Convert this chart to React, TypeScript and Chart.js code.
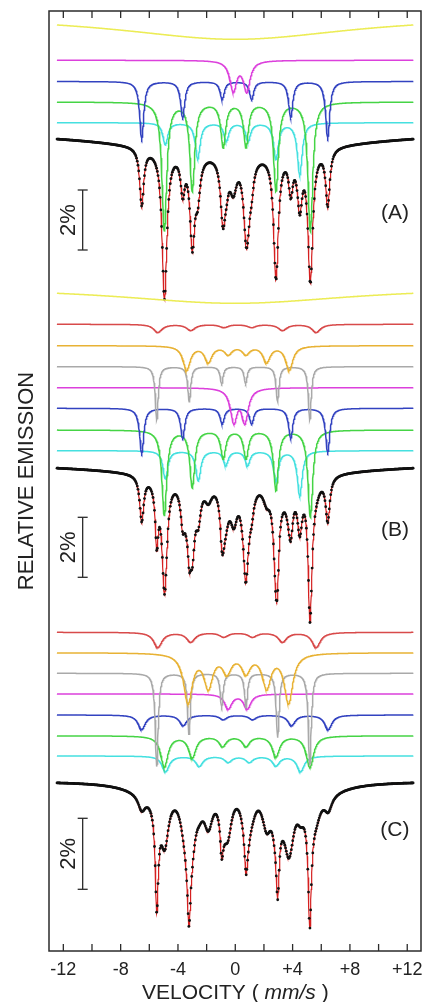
import { useEffect, useRef } from 'react';
import { Chart, registerables } from 'chart.js';

Chart.register(...registerables);

// ---------------- axes & texts ----------------
const X_MIN = -13.0;
const X_MAX = 12.96;
const Y_MIN = 0; // vertical display units (top of frame)
const Y_MAX = 940; // bottom of frame
const X_TICKS = [-12, -10, -8, -6, -4, -2, 0, 2, 4, 6, 8, 10, 12];
const X_TICK_LABELS = ['-12', '', '-8', '', '-4', '', '0', '', '+4', '', '+8', '', '+12'];
const X_TITLE_PARTS = ['VELOCITY ( ', 'mm/s', ' )'];
const Y_TITLE = 'RELATIVE EMISSION';
const PANEL_LABELS = ['(A)', '(B)', '(C)'];
const SCALE_LABEL = '2%';

// measured velocity range (mm/s) and channel spacing
const V_FIRST = -12.44;
const V_LAST = 12.42;
const CHANNEL_STEP = 0.05;
const CURVE_STEP = 0.02;

// ---------------- Panel A (line positions mm/s, depths, HWHM, baselines) ----------------
const A_YELLOW_V = [0];
const A_YELLOW_D = [23.6];
const A_MAGENTA_V = [-0.14, 0.8];
const A_MAGENTA_D = [30, 30];
const A_BLUE_V = [-6.53, -3.67, -0.91, 1.14, 3.87, 6.45];
const A_BLUE_D = [57, 36, 18, 18, 36, 56];
const A_GREEN_V = [-4.95, -3.0, -0.84, 0.75, 2.84, 5.24];
const A_GREEN_D = [128, 88, 44, 44, 88, 129];
const A_CYAN_V = [-4.88, -2.62, -0.62, 0.9, 2.84, 4.5];
const A_CYAN_D = [22, 36, 18, 18, 36, 52];
const A_HWHM = [10, 0.28, 0.17, 0.2, 0.2];
const A_BASELINES = [4.7, 49.3, 70.5, 91, 111.7];
const A_SPECTRUM_BASELINE = 118.5;

// ---------------- Panel B ----------------
const B_YELLOW_V = [0];
const B_YELLOW_D = [16.5];
const B_RED_V = [-5.4, -3.1, -0.8, 1.15, 3.3, 5.65];
const B_RED_D = [8, 6, 3, 3, 6, 8];
const B_ORANGE_V = [-3.39, -1.88, -0.49, 0.75, 2.19, 3.77];
const B_ORANGE_D = [24, 16, 8, 8, 16, 24];
const B_GRAY_V = [-5.48, -3.21, -0.95, 0.72, 2.95, 5.2];
const B_GRAY_D = [53, 35, 17, 17, 35, 53];
const B_MAGENTA_V = [-0.1, 0.67];
const B_MAGENTA_D = [32.8, 32.8];
const B_BLUE_V = [-6.53, -3.67, -0.91, 1.14, 3.87, 6.45];
const B_BLUE_D = [45, 30, 15.7, 15.7, 30, 44];
const B_GREEN_V = [-4.95, -3.0, -0.84, 0.75, 2.84, 5.24];
const B_GREEN_D = [85, 57, 28, 28, 60, 87];
const B_CYAN_V = [-4.88, -2.58, -0.66, 0.86, 2.84, 4.5];
const B_CYAN_D = [28, 30, 14.3, 14.3, 30, 45];
const B_HWHM = [10, 0.35, 0.3, 0.12, 0.28, 0.17, 0.2, 0.2];
const B_BASELINES = [275.8, 313.3, 334.7, 355.7, 376.7, 397.3, 419, 439.7];
const B_SPECTRUM_BASELINE = 450.3;

// ---------------- Panel C ----------------
const C_RED_V = [-5.4, -3.1, -0.8, 1.2, 3.3, 5.65];
const C_RED_D = [15, 9.5, 4.5, 4.5, 9.5, 15];
const C_ORANGE_V = [-3.3, -1.88, -0.58, 0.75, 2.19, 3.72];
const C_ORANGE_D = [49, 33, 18, 18, 33, 49];
const C_GRAY_V = [-5.48, -3.23, -0.95, 0.75, 2.96, 5.2];
const C_GRAY_D = [93, 61, 33, 34, 64, 92];
const C_MAGENTA_V = [-0.49, 0.84];
const C_MAGENTA_D = [14.6, 14.6];
const C_BLUE_V = [-6.53, -3.63, -0.84, 1.21, 3.93, 6.49];
const C_BLUE_D = [14.5, 10.5, 4.5, 4.5, 10.5, 14.5];
const C_GREEN_V = [-4.95, -3.0, -0.88, 0.75, 2.84, 5.21];
const C_GREEN_D = [31, 21.5, 10, 10, 20.5, 31.5];
const C_CYAN_V = [-4.86, -2.51, -0.49, 0.98, 2.84, 4.56];
const C_CYAN_D = [15.5, 10, 6, 6, 9.5, 15.5];
const C_WING_V = [-6, 6]; // broad unresolved wings, contained in the fit only
const C_WING_D = [10, 10];
const C_HWHM = [0.35, 0.36, 0.12, 0.3, 0.3, 0.3, 0.3, 2];
const C_BASELINES = [621.3, 641.7, 662.3, 683, 704, 724.8, 745, 0];
const C_SPECTRUM_BASELINE = 770.4;

// ---------------- annotation positions (data units) ----------------
const SCALE_BAR_V = -10.65;
const SCALE_BAR_TOP = [179, 506.3, 807.3];
const SCALE_BAR_BOTTOM = [239, 566.3, 878.3];
const SCALE_LABEL_V = -11.19;
const PANEL_LABEL_V = 11.14;
const PANEL_LABEL_Y = [207.5, 525, 825];

const COLORS: Record<string, string> = {
  yellow: '#ecec55',
  magenta: '#dc40dc',
  blue: '#3242c0',
  green: '#45d445',
  cyan: '#45e0e0',
  red: '#d84a4a',
  orange: '#e8b234',
  gray: '#a9a9a9',
  fit: '#d52020',
  data: '#111111',
};

type Comp = { color: string; baseline: number; lines: number[]; depths: number[]; hwhm: number; drawn: boolean };
const comp = (color: string, baseline: number, lines: number[], depths: number[], hwhm: number, drawn = true): Comp => ({
  color, baseline, lines, depths, hwhm, drawn,
});

const PANELS: { comps: Comp[]; spectrumBaseline: number }[] = [
  {
    comps: [
      comp('yellow', A_BASELINES[0], A_YELLOW_V, A_YELLOW_D, A_HWHM[0]),
      comp('magenta', A_BASELINES[1], A_MAGENTA_V, A_MAGENTA_D, A_HWHM[1]),
      comp('blue', A_BASELINES[2], A_BLUE_V, A_BLUE_D, A_HWHM[2]),
      comp('green', A_BASELINES[3], A_GREEN_V, A_GREEN_D, A_HWHM[3]),
      comp('cyan', A_BASELINES[4], A_CYAN_V, A_CYAN_D, A_HWHM[4]),
    ],
    spectrumBaseline: A_SPECTRUM_BASELINE,
  },
  {
    comps: [
      comp('yellow', B_BASELINES[0], B_YELLOW_V, B_YELLOW_D, B_HWHM[0]),
      comp('red', B_BASELINES[1], B_RED_V, B_RED_D, B_HWHM[1]),
      comp('orange', B_BASELINES[2], B_ORANGE_V, B_ORANGE_D, B_HWHM[2]),
      comp('gray', B_BASELINES[3], B_GRAY_V, B_GRAY_D, B_HWHM[3]),
      comp('magenta', B_BASELINES[4], B_MAGENTA_V, B_MAGENTA_D, B_HWHM[4]),
      comp('blue', B_BASELINES[5], B_BLUE_V, B_BLUE_D, B_HWHM[5]),
      comp('green', B_BASELINES[6], B_GREEN_V, B_GREEN_D, B_HWHM[6]),
      comp('cyan', B_BASELINES[7], B_CYAN_V, B_CYAN_D, B_HWHM[7]),
    ],
    spectrumBaseline: B_SPECTRUM_BASELINE,
  },
  {
    comps: [
      comp('red', C_BASELINES[0], C_RED_V, C_RED_D, C_HWHM[0]),
      comp('orange', C_BASELINES[1], C_ORANGE_V, C_ORANGE_D, C_HWHM[1]),
      comp('gray', C_BASELINES[2], C_GRAY_V, C_GRAY_D, C_HWHM[2]),
      comp('magenta', C_BASELINES[3], C_MAGENTA_V, C_MAGENTA_D, C_HWHM[3]),
      comp('blue', C_BASELINES[4], C_BLUE_V, C_BLUE_D, C_HWHM[4]),
      comp('green', C_BASELINES[5], C_GREEN_V, C_GREEN_D, C_HWHM[5]),
      comp('cyan', C_BASELINES[6], C_CYAN_V, C_CYAN_D, C_HWHM[6]),
      comp('red', C_BASELINES[7], C_WING_V, C_WING_D, C_HWHM[7], false),
    ],
    spectrumBaseline: C_SPECTRUM_BASELINE,
  },
];

const dip = (v: number, c: Comp) => {
  let s = 0;
  for (let i = 0; i < c.lines.length; i++) {
    const t = (v - c.lines[i]) / c.hwhm;
    s += c.depths[i] / (1 + t * t);
  }
  return s;
};

const grid = (step: number) => {
  const out: number[] = [];
  const n = Math.round((V_LAST - V_FIRST) / step);
  for (let i = 0; i <= n; i++) out.push(V_FIRST + i * step);
  return out;
};

const FONT = '"Liberation Sans", Arial, sans-serif';

const decorPlugin = {
  id: 'decor',
  afterDraw(chart: any) {
    const { ctx, chartArea: a, scales } = chart;
    const xs = scales.x;
    const ys = scales.y;
    ctx.save();
    ctx.strokeStyle = '#2b2b2b';
    ctx.fillStyle = '#222';
    ctx.lineWidth = 1.5;
    ctx.strokeRect(a.left, a.top, a.right - a.left, a.bottom - a.top);
    const seg = (x1: number, y1: number, x2: number, y2: number) => {
      ctx.beginPath();
      ctx.moveTo(x1, y1);
      ctx.lineTo(x2, y2);
      ctx.stroke();
    };
    ctx.lineWidth = 1.3;
    X_TICKS.forEach((t) => {
      const px = xs.getPixelForValue(t);
      seg(px, a.top, px, a.top + 7);
      seg(px, a.bottom, px, a.bottom - 7);
    });
    ctx.font = `18px ${FONT}`;
    ctx.textAlign = 'center';
    ctx.textBaseline = 'alphabetic';
    X_TICKS.forEach((t, i) => {
      if (X_TICK_LABELS[i]) ctx.fillText(X_TICK_LABELS[i], xs.getPixelForValue(t), a.bottom + 24);
    });
    // x title with italic unit
    const fN = `21px ${FONT}`;
    const fI = `italic 21px ${FONT}`;
    ctx.textAlign = 'left';
    ctx.font = fN;
    const w0 = ctx.measureText(X_TITLE_PARTS[0]).width;
    const w2 = ctx.measureText(X_TITLE_PARTS[2]).width;
    ctx.font = fI;
    const w1 = ctx.measureText(X_TITLE_PARTS[1]).width;
    let tx = xs.getPixelForValue(0) - (w0 + w1 + w2) / 2;
    const ty = a.bottom + 47.5;
    ctx.font = fN;
    ctx.fillText(X_TITLE_PARTS[0], tx, ty);
    tx += w0;
    ctx.font = fI;
    ctx.fillText(X_TITLE_PARTS[1], tx, ty);
    tx += w1;
    ctx.font = fN;
    ctx.fillText(X_TITLE_PARTS[2], tx, ty);
    // y title
    ctx.save();
    ctx.translate(33, (a.top + a.bottom) / 2);
    ctx.rotate(-Math.PI / 2);
    ctx.textAlign = 'center';
    ctx.font = `22px ${FONT}`;
    ctx.fillText(Y_TITLE, 0, 0);
    ctx.restore();
    // scale bars and panel labels
    const bx = xs.getPixelForValue(SCALE_BAR_V);
    const lx = xs.getPixelForValue(SCALE_LABEL_V);
    const px = xs.getPixelForValue(PANEL_LABEL_V);
    for (let p = 0; p < 3; p++) {
      const y1 = ys.getPixelForValue(SCALE_BAR_TOP[p]);
      const y2 = ys.getPixelForValue(SCALE_BAR_BOTTOM[p]);
      ctx.lineWidth = 1.3;
      seg(bx, y1, bx, y2);
      seg(bx - 5, y1, bx + 5, y1);
      seg(bx - 5, y2, bx + 5, y2);
      ctx.save();
      ctx.translate(lx, (y1 + y2) / 2);
      ctx.rotate(-Math.PI / 2);
      ctx.textAlign = 'center';
      ctx.font = `22px ${FONT}`;
      ctx.fillText(SCALE_LABEL, 0, 0);
      ctx.restore();
      ctx.textAlign = 'center';
      ctx.font = `21px ${FONT}`;
      ctx.fillText(PANEL_LABELS[p], px, ys.getPixelForValue(PANEL_LABEL_Y[p]));
    }
    ctx.restore();
  },
};

export default function App() {
  const ref = useRef<HTMLCanvasElement | null>(null);
  useEffect(() => {
    if (!ref.current) return;
    const curveV = grid(CURVE_STEP);
    const chanV = grid(CHANNEL_STEP);
    const datasets: any[] = [];
    PANELS.forEach((panel) => {
      panel.comps.forEach((c) => {
        if (!c.drawn) return;
        datasets.push({
          data: curveV.map((v) => ({ x: v, y: c.baseline + dip(v, c) })),
          borderColor: COLORS[c.color],
          borderWidth: 1.5,
          pointRadius: 0,
          fill: false,
          tension: 0,
          order: 0,
        });
      });
      const total = (v: number) => panel.spectrumBaseline + panel.comps.reduce((s, c) => s + dip(v, c), 0);
      datasets.push({
        data: curveV.map((v) => ({ x: v, y: total(v) })),
        borderColor: COLORS.fit,
        borderWidth: 1.2,
        pointRadius: 0,
        fill: false,
        tension: 0,
        order: 2,
      });
      datasets.push({
        data: chanV.map((v) => ({ x: v, y: total(v) })),
        showLine: false,
        pointRadius: 1.4,
        pointBackgroundColor: COLORS.data,
        pointBorderWidth: 0,
        pointHoverRadius: 0,
        order: 1,
      });
    });
    const chart = new Chart(ref.current, {
      type: 'line',
      data: { datasets },
      options: {
        animation: false,
        responsive: false,
        parsing: false,
        normalized: true,
        events: [],
        layout: { padding: { left: 49, right: 3, top: 11, bottom: 51 } },
        scales: {
          x: { type: 'linear', min: X_MIN, max: X_MAX, display: false },
          y: { type: 'linear', min: Y_MIN, max: Y_MAX, reverse: true, display: false },
        },
        plugins: { legend: { display: false }, tooltip: { enabled: false } },
      } as any,
      plugins: [decorPlugin],
    });
    return () => chart.destroy();
  }, []);
  return (
    <div style={{ position: 'absolute', left: 0, top: 0, width: 424, height: 1002, background: '#fff' }}>
      <canvas ref={ref} width={424} height={1002} style={{ display: 'block' }} />
    </div>
  );
}
